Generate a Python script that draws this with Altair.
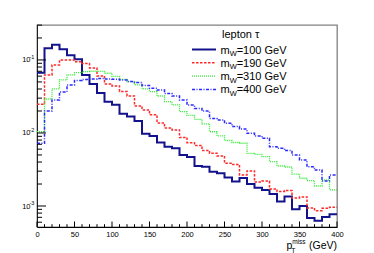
import altair as alt
import pandas as pd

# ---------------- data ----------------
bin_edges = list(range(0, 410, 10))  # 40 bins of 10 GeV, 0..400

mw100 = [0.067, 0.145, 0.162, 0.140, 0.116, 0.102, 0.0623, 0.0469, 0.0353, 0.0268,
         0.0244, 0.0184, 0.0168, 0.0146, 0.00978, 0.0091, 0.00741, 0.00649, 0.00617, 0.0050,
         0.00469, 0.00353, 0.00345, 0.00295, 0.00281, 0.00246, 0.00217, 0.00242, 0.0020, 0.00178,
         0.00166, 0.00146, 0.00115, 0.00135, 0.00090, 0.0010, 0.000685, 0.00063, 0.000707, 0.000769]

mw190 = [0.0247, 0.0623, 0.0854, 0.100, 0.100, 0.0948, 0.0895, 0.0777, 0.0604, 0.0469,
         0.0441, 0.0370, 0.0321, 0.0234, 0.0207, 0.0177, 0.0137, 0.0117, 0.0110, 0.00868,
         0.00736, 0.00674, 0.00575, 0.00527, 0.00484, 0.00385, 0.0037, 0.00266, 0.00302, 0.00213,
         0.0022, 0.00171, 0.00158, 0.00163, 0.00129, 0.00133, 0.00094, 0.000863, 0.00093, 0.00096]

mw310 = [0.0104, 0.0292, 0.0401, 0.0532, 0.0623, 0.067, 0.0692, 0.0700, 0.0696, 0.0658,
         0.0594, 0.0541, 0.0505, 0.0455, 0.0401, 0.0368, 0.0321, 0.0268, 0.0242, 0.0196,
         0.0174, 0.0154, 0.0133, 0.0104, 0.0091, 0.00789, 0.00741, 0.00723, 0.00527, 0.0051,
         0.00476, 0.00405, 0.00353, 0.00342, 0.00274, 0.0024, 0.00222, 0.00188, 0.00227, 0.00166]

mw400 = [0.00723, 0.020, 0.0283, 0.0365, 0.0455, 0.0524, 0.0541, 0.0549, 0.0558, 0.0549,
         0.0545, 0.0532, 0.0508, 0.0492, 0.0448, 0.0409, 0.0388, 0.0348, 0.0321, 0.0283,
         0.0242, 0.0217, 0.020, 0.0158, 0.0151, 0.0136, 0.0123, 0.0113, 0.0099, 0.0091,
         0.00846, 0.00649, 0.00617, 0.00575, 0.0050, 0.00427, 0.00345, 0.00311, 0.0022, 0.00266]

series_values = [mw100, mw190, mw310, mw400]
series_masses = ["100", "190", "310", "400"]
legend_title = "lepton τ"

x_major = [0, 50, 100, 150, 200, 250, 300, 350, 400]
x_minor = [v for v in range(10, 400, 10) if v % 50 != 0]
y_major = [1e-3, 1e-2, 1e-1]
y_exponents = ["-3", "-2", "-1"]
y_minor = [6e-4, 7e-4, 8e-4, 9e-4] + [m * 1e-3 for m in range(2, 10)] + \
          [m * 1e-2 for m in range(2, 10)] + [2e-1, 3e-1]

# ---------------- styles ----------------
W, H = 300, 202
FONT = "Liberation Sans"
styles = [
    dict(color="#12128c", strokeWidth=2.0, strokeDash=[1, 0]),
    dict(color="#ff2a2a", strokeWidth=1.5, strokeDash=[2.5, 1.5]),
    dict(color="#33e833", strokeWidth=1.3, strokeDash=[1, 1]),
    dict(color="#2a2aff", strokeWidth=1.5, strokeDash=[3, 1.5, 1, 1.5]),
]

xs = alt.Scale(domain=[0, 400], nice=False, zero=False)
ys = alt.Scale(type="log", domain=[5.16e-4, 0.301], nice=False)

x_axis = alt.Axis(values=x_major, ticks=False, tickSize=0, grid=False,
                  labelFont=FONT, labelFontSize=7.5, labelPadding=3,
                  labelColor="#000", domainColor="#000", domainWidth=1,
                  title=None, labelFlush=False, labelOverlap=False)
y_axis = alt.Axis(values=y_major, ticks=False, tickSize=0, grid=False,
                  labelExpr="'10'", labelFont=FONT, labelFontSize=7.5,
                  labelPadding=7, labelColor="#000", domainColor="#222",
                  domainWidth=1, title=None, labelOverlap=False)


def X(field):
    return alt.X(field, scale=xs, axis=x_axis)


def Y(field):
    return alt.Y(field, scale=ys, axis=y_axis)


layers = []

# histogram step lines
for vals, st in zip(series_values, styles):
    df = pd.DataFrame({"x": bin_edges, "y": vals + [vals[-1]]})
    layers.append(
        alt.Chart(df).mark_line(interpolate="step-after", clip=True, **st).encode(
            x=X("x:Q"), y=Y("y:Q"))
    )

# inward ticks (ROOT style)
layers.append(alt.Chart(pd.DataFrame({"y": y_major})).mark_rule(color="#000", strokeWidth=1).encode(
    y=Y("y:Q"), x=alt.value(0), x2=alt.value(9)))
layers.append(alt.Chart(pd.DataFrame({"y": y_minor})).mark_rule(color="#000", strokeWidth=1).encode(
    y=Y("y:Q"), x=alt.value(0), x2=alt.value(5)))
layers.append(alt.Chart(pd.DataFrame({"x": x_major})).mark_rule(color="#000", strokeWidth=1).encode(
    x=X("x:Q"), y=alt.value(H), y2=alt.value(H - 5.5)))
layers.append(alt.Chart(pd.DataFrame({"x": x_minor})).mark_rule(color="#000", strokeWidth=1).encode(
    x=X("x:Q"), y=alt.value(H), y2=alt.value(H - 2.8)))

# y exponents
layers.append(alt.Chart(pd.DataFrame({"y": y_major, "e": y_exponents})).mark_text(
    align="left", baseline="middle", font=FONT, fontSize=5.5, dy=-3, color="#000").encode(
    y=Y("y:Q"), x=alt.value(-7.5), text="e:N"))


# x axis title  p_T^miss (GeV)
def txt(s, x, y, size, align="left"):
    return alt.Chart(pd.DataFrame({"t": [s]})).mark_text(
        align=align, baseline="alphabetic", font=FONT, fontSize=size, color="#000").encode(
        x=alt.value(x), y=alt.value(y), text="t:N")


layers.append(txt("p", 249.5, 223.5, 10.5))
layers.append(txt("T", 254.2, 228, 6.8))
layers.append(txt("miss", 255.2, 219, 6.5))
layers.append(txt("(GeV)", 300, 223.5, 10.5, align="right"))

# legend
layers.append(txt(legend_title, 185, 12.5, 11))
row_y = [24.5, 37.8, 51.1, 64.4]
for m, st, ry in zip(series_masses, styles, row_y):
    layers.append(alt.Chart(pd.DataFrame({"t": [m]})).mark_rule(**st).encode(
        x=alt.value(155), x2=alt.value(179), y=alt.value(ry)))
    layers.append(txt("m", 183.5, ry + 4, 11))
    layers.append(txt("W", 192.7, ry + 6.5, 7.5))
    layers.append(txt("=" + m + " GeV", 199.7, ry + 4, 11))

chart = alt.layer(*layers).properties(
    width=W, height=H,
    autosize=alt.AutoSizeParams(type="none"),
    padding={"left": 29, "top": 17, "right": 29, "bottom": 28},
    background="white",
).configure_view(stroke="#808080", strokeWidth=1.3)

chart.save("out.html", embed_options={"renderer": "svg", "actions": False})
